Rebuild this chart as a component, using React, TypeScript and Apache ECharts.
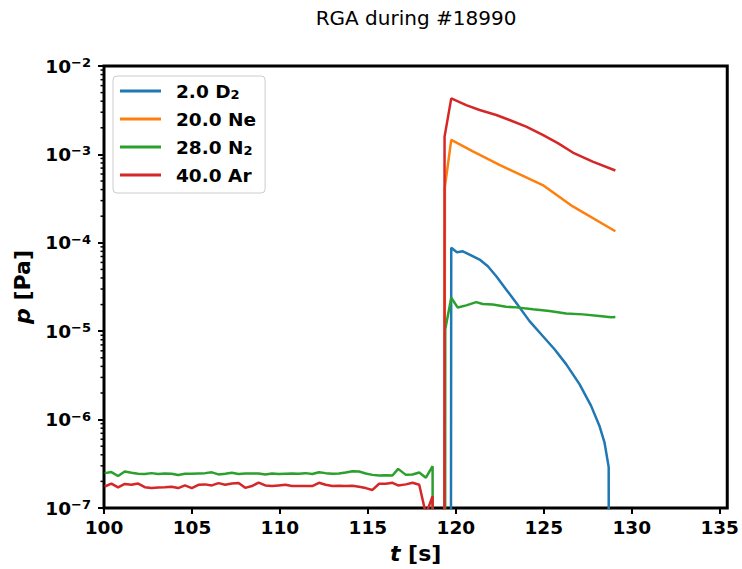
import React, { useEffect, useRef } from 'react';
import * as echarts from 'echarts';

const FONT = "'DejaVu Sans', sans-serif";

// ---- data (time in s, pressure in Pa) ----
const baseTimes = [
  100.04, 100.42, 100.8, 101.18, 101.56, 101.94, 102.32, 102.7, 103.08, 103.46,
  103.84, 104.22, 104.6, 104.99, 105.37, 105.75, 106.13, 106.51, 106.89, 107.27,
  107.65, 108.03, 108.41, 108.79, 109.17, 109.55, 109.93, 110.31, 110.69, 111.07,
  111.45, 111.84, 112.22, 112.6, 112.98, 113.36, 113.74, 114.12, 114.5, 114.88,
  115.26, 115.64, 116.02, 116.4, 116.72, 117.16, 117.54, 117.92, 118.3, 118.68,
];
const n2Base = [
  2.48e-7, 2.55e-7, 2.3e-7, 2.59e-7, 2.5e-7, 2.44e-7, 2.42e-7, 2.48e-7, 2.42e-7, 2.46e-7,
  2.44e-7, 2.36e-7, 2.44e-7, 2.44e-7, 2.46e-7, 2.48e-7, 2.53e-7, 2.4e-7, 2.44e-7, 2.5e-7,
  2.42e-7, 2.46e-7, 2.46e-7, 2.46e-7, 2.4e-7, 2.46e-7, 2.42e-7, 2.44e-7, 2.46e-7, 2.44e-7,
  2.48e-7, 2.42e-7, 2.54e-7, 2.48e-7, 2.44e-7, 2.46e-7, 2.52e-7, 2.61e-7, 2.59e-7, 2.46e-7,
  2.37e-7, 2.33e-7, 2.35e-7, 2.33e-7, 2.77e-7, 2.37e-7, 2.39e-7, 2.52e-7, 2.2e-7, 2.97e-7,
];
const arBase = [
  1.75e-7, 1.89e-7, 1.71e-7, 1.87e-7, 1.83e-7, 1.89e-7, 1.72e-7, 1.68e-7, 1.71e-7, 1.72e-7,
  1.74e-7, 1.68e-7, 1.8e-7, 1.68e-7, 1.83e-7, 1.85e-7, 1.8e-7, 1.91e-7, 1.83e-7, 1.89e-7,
  1.92e-7, 1.69e-7, 1.77e-7, 1.94e-7, 1.8e-7, 1.77e-7, 1.8e-7, 1.83e-7, 1.77e-7, 1.77e-7,
  1.77e-7, 1.77e-7, 1.93e-7, 1.83e-7, 1.77e-7, 1.78e-7, 1.77e-7, 1.78e-7, 1.74e-7, 1.68e-7,
  1.6e-7, 1.88e-7, 1.88e-7, 1.93e-7, 1.8e-7, 1.85e-7, 1.93e-7, 1.83e-7, 0.85e-7, 1.36e-7,
];

const d2Times = [119.7, 119.74, 120.06, 120.4, 120.78, 121.35, 121.82, 122.3, 122.86, 123.43,
  124.19, 124.94, 125.61, 126.27, 127.03, 127.69, 128.16, 128.45, 128.69, 128.71];
const d2Values = [1e-12, 8.77e-5, 7.82e-5, 8.02e-5, 7.36e-5, 6.47e-5, 5.43e-5, 4.19e-5, 2.97e-5, 2.1e-5,
  1.3e-5, 8.83e-6, 6.25e-6, 4.24e-6, 2.52e-6, 1.43e-6, 8.54e-7, 5.54e-7, 2.9e-7, 1e-12];

const neTimes = [119.34, 119.38, 119.74, 120.97, 122.48, 124.94, 126.65, 129.07];
const neValues = [1e-12, 4.3e-4, 1.46e-3, 1.08e-3, 7.6e-4, 4.5e-4, 2.58e-4, 1.35e-4];

const n2Times = [118.7, 119.38, 119.4, 119.74, 120.11, 120.59, 121.16, 121.53, 122.1, 122.86,
  123.43, 124.38, 125.32, 126.27, 127.22, 128.16, 128.83, 129.07];
const n2Values = [1e-12, 1e-12, 1.05e-5, 2.39e-5, 1.85e-5, 1.96e-5, 2.13e-5, 2.03e-5, 2.0e-5, 1.89e-5,
  1.86e-5, 1.77e-5, 1.69e-5, 1.59e-5, 1.55e-5, 1.49e-5, 1.44e-5, 1.45e-5];

const arTimes = [118.7, 119.34, 119.36, 119.74, 120.59, 121.35, 122.3, 123.05, 124.0, 124.94,
  125.8, 126.65, 127.78, 129.07];
const arValues = [1e-12, 1e-12, 1.59e-3, 4.3e-3, 3.61e-3, 3.18e-3, 2.79e-3, 2.45e-3, 2.06e-3, 1.66e-3,
  1.34e-3, 1.05e-3, 8.3e-4, 6.57e-4];

const seriesKeys = ['D2', 'Ne', 'N2', 'Ar'];
const legendLabels: Record<string, string> = {
  D2: '{b|2.0 D}{sub|2}',
  Ne: '{b|20.0 Ne}',
  N2: '{b|28.0 N}{sub|2}',
  Ar: '{b|40.0 Ar}',
};
const colors = ['#1f77b4', '#ff7f0e', '#2ca02c', '#d62728'];

const xTicks = [100, 105, 110, 115, 120, 125, 130, 135];
const xMin = 100;
const xMax = 135.43;
const yMin = 1e-7;
const yMax = 1e-2;
const minorMultipliers = [2, 3, 4, 5, 6, 7, 8, 9];
const decades = [-7, -6, -5, -4, -3];

const pair = (ts: number[], vs: number[]) => ts.map((t, i) => [t, vs[i]]);

export default function App() {
  const ref = useRef<HTMLDivElement>(null);
  useEffect(() => {
    if (!ref.current) return;
    const chart = echarts.init(ref.current, undefined, { renderer: 'svg' });

    const minorTicks: number[][] = [];
    decades.forEach((d) => minorMultipliers.forEach((m) => minorTicks.push([xMin, m * Math.pow(10, d)])));

    const seriesData = [
      pair(d2Times, d2Values),
      pair(neTimes, neValues),
      pair(baseTimes, n2Base).concat(pair(n2Times, n2Values)),
      pair(baseTimes, arBase).concat(pair(arTimes, arValues)),
    ];

    const bold = { fontFamily: FONT, fontWeight: 'bold' as const, color: '#000' };

    chart.setOption({
      animation: false,
      backgroundColor: '#fff',
      textStyle: { fontFamily: FONT },
      grid: {
        left: 104, top: 66, right: 13.5, bottom: 59.7,
        show: true, borderColor: '#000', borderWidth: 3, backgroundColor: 'transparent',
      },
      graphic: [
        {
          type: 'text', x: 416, y: 18,
          style: {
            text: 'RGA during #18990', fontFamily: FONT, fontSize: 20, fill: '#000',
            textAlign: 'center', textVerticalAlign: 'middle',
          },
        },
      ],
      legend: {
        data: seriesKeys,
        orient: 'vertical',
        left: 113, top: 76,
        padding: [5, 9, 8, 7],
        itemGap: 8,
        itemWidth: 51, itemHeight: 3,
        icon: 'path://M0,0H41V3H0Z M51,0L51,3',
        itemStyle: { borderWidth: 0 },
        backgroundColor: 'rgba(255,255,255,0.8)',
        borderColor: '#cccccc', borderWidth: 1, borderRadius: 4,
        formatter: (n: string) => legendLabels[n],
        textStyle: {
          ...bold, fontSize: 18.5, lineHeight: 20,
          rich: {
            b: { ...bold, fontSize: 18.5, lineHeight: 20 },
            sub: { ...bold, fontSize: 13, lineHeight: 10, verticalAlign: 'bottom' },
          },
        },
      },
      xAxis: {
        type: 'value', min: xMin, max: xMax,
        name: '{i|t} {b|[s]}', nameLocation: 'middle', nameGap: 34,
        nameTextStyle: {
          ...bold, fontSize: 22,
          rich: {
            i: { ...bold, fontSize: 22, fontStyle: 'italic' },
            b: { ...bold, fontSize: 22 },
          },
        },
        axisLine: { show: false },
        splitLine: { show: false },
        axisTick: { show: true, length: 6, lineStyle: { color: '#000', width: 2 }, customValues: xTicks },
        axisLabel: { ...bold, fontSize: 18.5, margin: 10, customValues: xTicks },
      },
      yAxis: {
        type: 'log', logBase: 10, min: yMin, max: yMax,
        name: '{i|p} {b|[Pa]}', nameLocation: 'middle', nameGap: 71, nameRotate: 90,
        nameTextStyle: {
          ...bold, fontSize: 22,
          rich: {
            i: { ...bold, fontSize: 22, fontStyle: 'italic' },
            b: { ...bold, fontSize: 22 },
          },
        },
        axisLine: { show: false },
        splitLine: { show: false },
        axisTick: { show: true, length: 6, lineStyle: { color: '#000', width: 2 } },
        axisLabel: {
          ...bold, fontSize: 18.5, margin: 13,
          formatter: (v: number) => `{b|10}{sup|\u2212${-Math.round(Math.log10(v))}}`,
          rich: {
            b: { ...bold, fontSize: 18.5, lineHeight: 20 },
            sup: { ...bold, fontSize: 13, lineHeight: 12, verticalAlign: 'top' },
          },
        },
      },
      series: [
        ...seriesKeys.map((k, i) => ({
          name: k,
          type: 'line',
          data: seriesData[i],
          showSymbol: false,
          symbol: 'none',
          clip: true,
          color: colors[i],
          lineStyle: { color: colors[i], width: 2.5 },
          z: 2 + i,
        })),
        {
          type: 'custom',
          name: 'minor',
          silent: true,
          data: minorTicks,
          encode: { x: 0, y: 1 },
          z: 10,
          renderItem: (_p: any, api: any) => {
            const pt = api.coord([api.value(0), api.value(1)]);
            return {
              type: 'line',
              shape: { x1: pt[0] - 3.5, y1: pt[1], x2: pt[0], y2: pt[1] },
              style: { stroke: '#000', lineWidth: 1.5 },
            };
          },
        },
      ],
    });
    return () => chart.dispose();
  }, []);
  return <div ref={ref} style={{ position: 'absolute', left: 0, top: 0, width: 742, height: 569 }} />;
}
